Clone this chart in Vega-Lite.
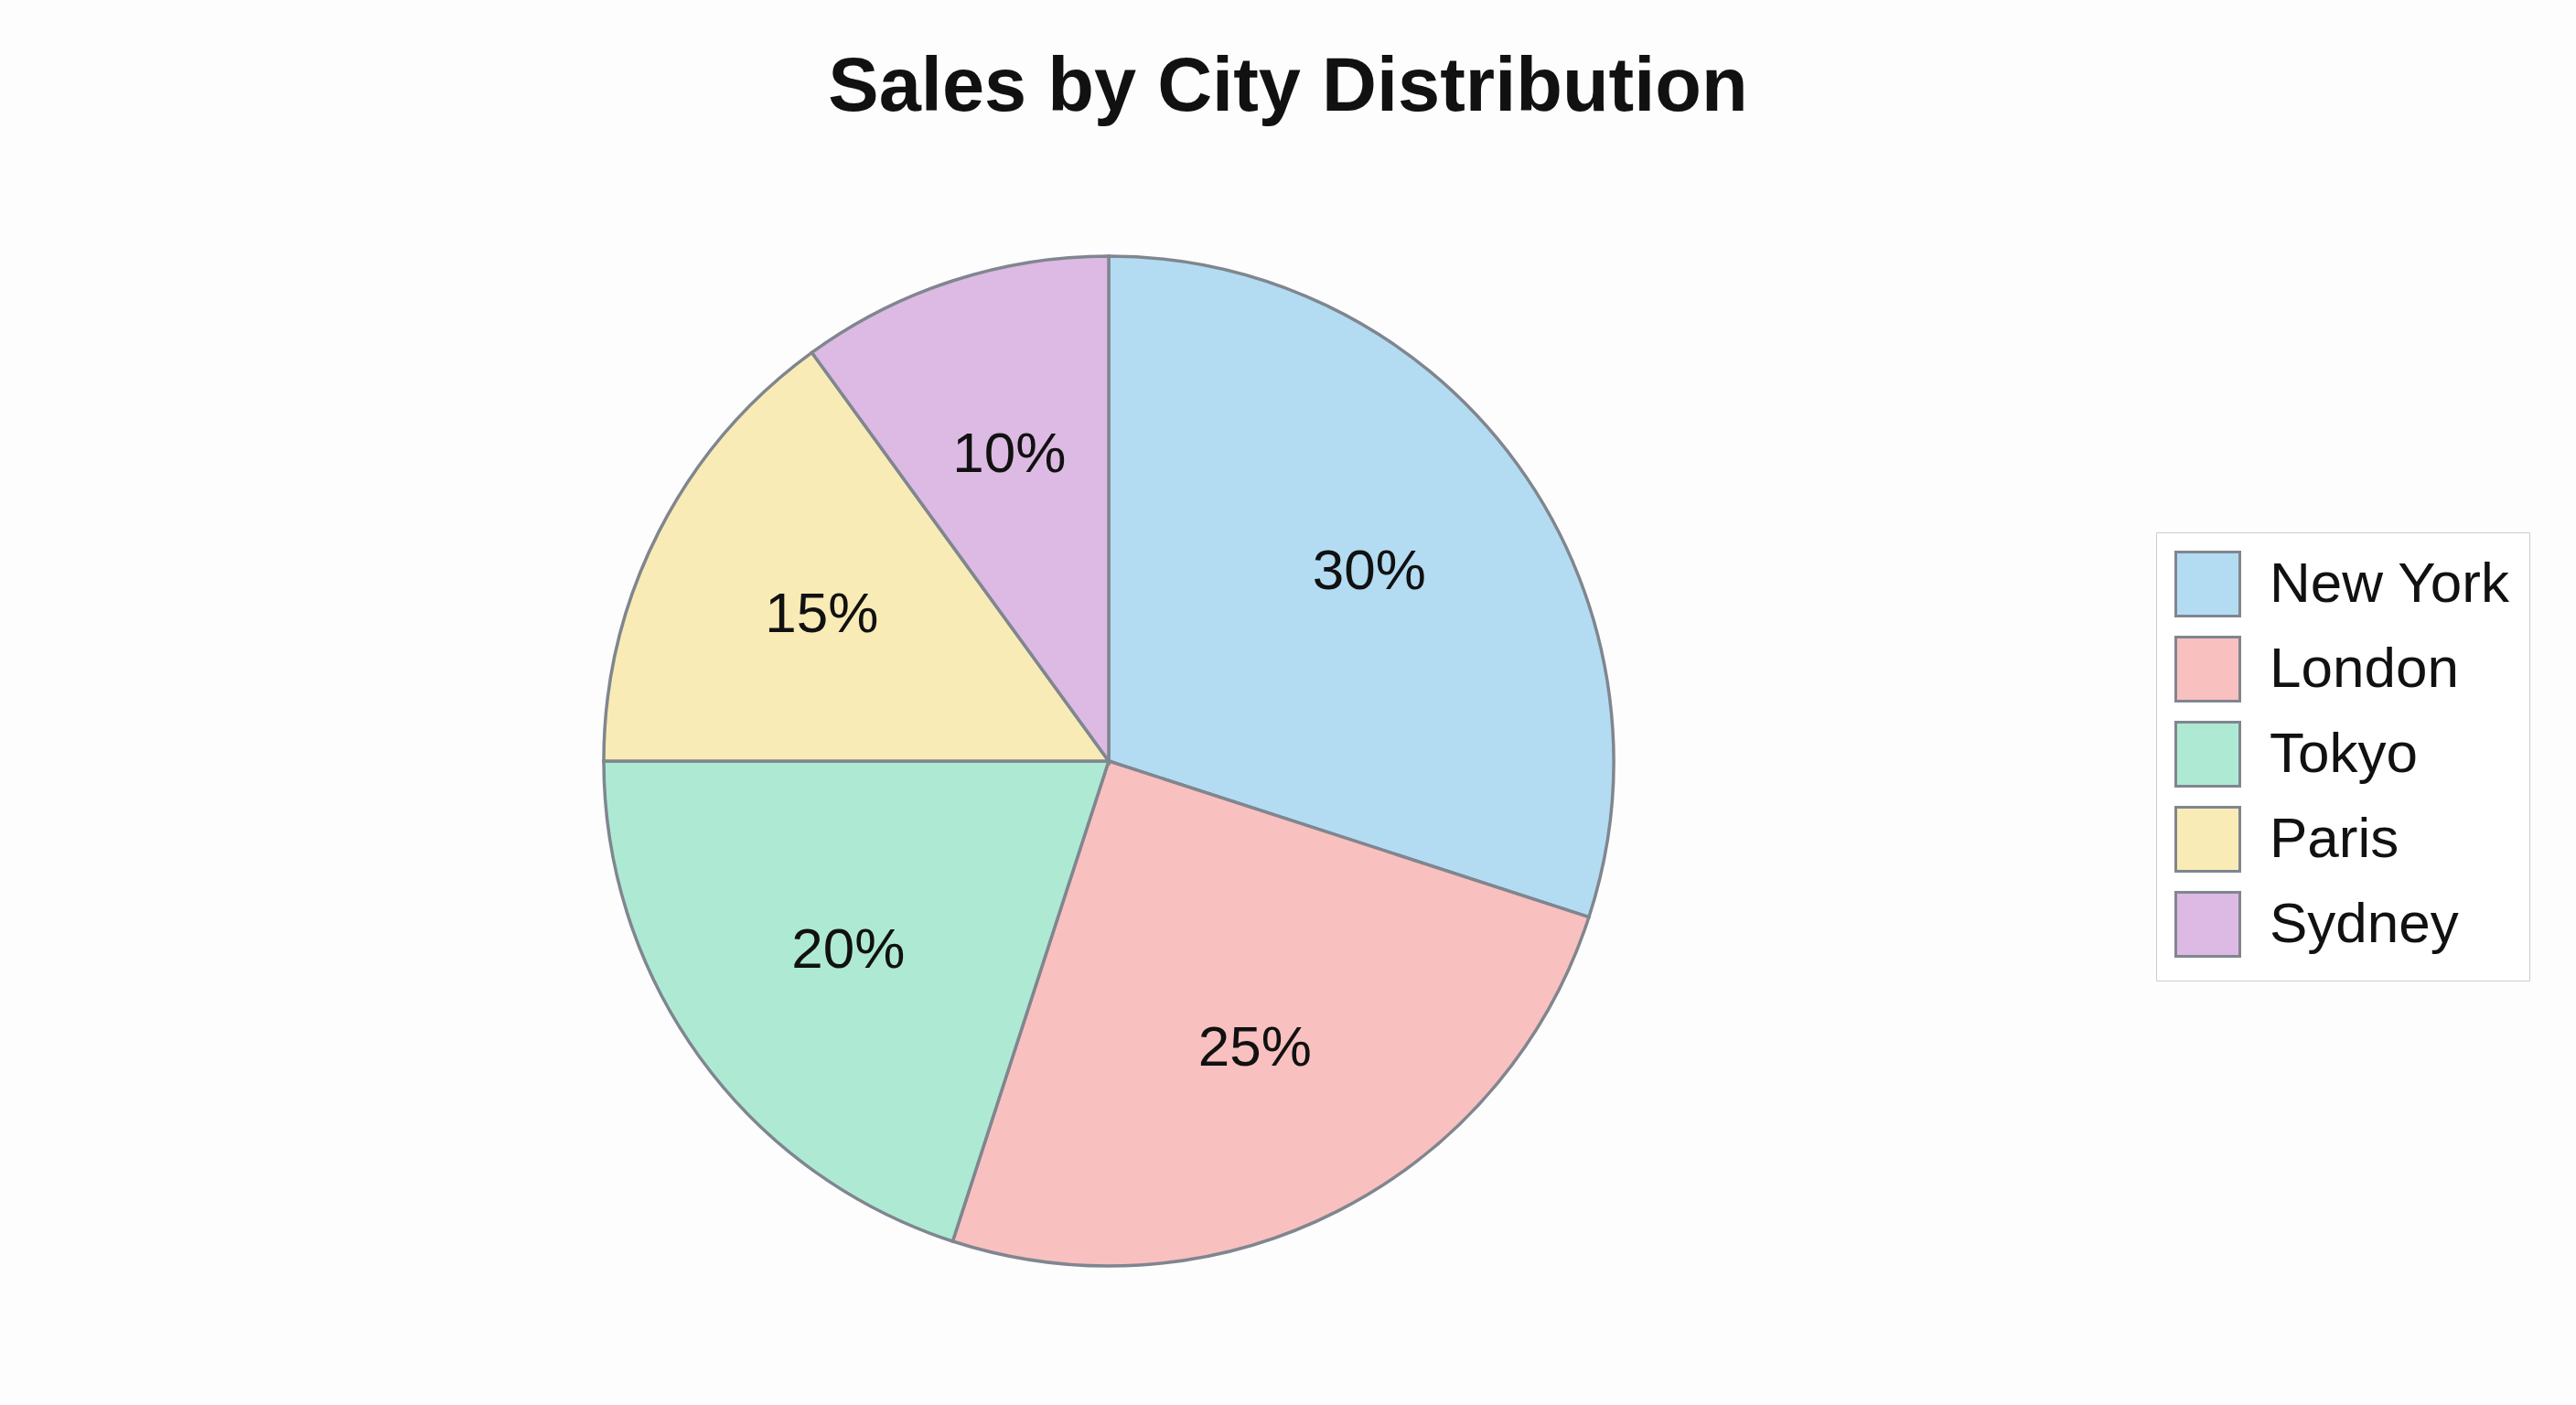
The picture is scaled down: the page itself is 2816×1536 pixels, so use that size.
{
  "$schema": "https://vega.github.io/schema/vega-lite/v6.json",
  "autosize": "none",
  "width": 2424,
  "height": 1120,
  "padding": {"left": 0, "top": 272, "right": 392, "bottom": 144},
  "background": "#fdfdfd",
  "title": {
    "text": "Sales by City Distribution",
    "anchor": "middle",
    "frame": "group",
    "dx": 196,
    "offset": 68,
    "baseline": "alphabetic",
    "font": "Liberation Sans",
    "fontSize": 83,
    "fontWeight": "bold",
    "color": "#111111"
  },
  "data": {
    "values": [
      {"city": "New York", "share": 30, "label": "30%", "rank": 1},
      {"city": "London", "share": 25, "label": "25%", "rank": 2},
      {"city": "Tokyo", "share": 20, "label": "20%", "rank": 3},
      {"city": "Paris", "share": 15, "label": "15%", "rank": 4},
      {"city": "Sydney", "share": 10, "label": "10%", "rank": 5}
    ]
  },
  "encoding": {
    "theta": {"field": "share", "type": "quantitative", "stack": true},
    "order": {"field": "rank", "type": "quantitative"},
    "color": {
      "field": "city",
      "type": "nominal",
      "sort": ["New York", "London", "Tokyo", "Paris", "Sydney"],
      "scale": {
        "domain": ["New York", "London", "Tokyo", "Paris", "Sydney"],
        "range": ["#b3dcf2", "#f9c0c0", "#aeead3", "#f8ebb5", "#dcbae3"]
      },
      "legend": {
        "title": null,
        "orient": "none",
        "legendX": 2357,
        "legendY": 310,
        "direction": "vertical",
        "symbolType": "square",
        "symbolSize": 4900,
        "symbolStrokeColor": "#80868f",
        "symbolStrokeWidth": 3,
        "symbolOpacity": 1,
        "labelFont": "Liberation Sans",
        "labelFontSize": 62,
        "labelColor": "#111111",
        "labelOffset": 31,
        "labelLimit": 500,
        "rowPadding": 10,
        "padding": 20,
        "fillColor": "#ffffff",
        "strokeColor": "#cccccc",
        "cornerRadius": 0
      }
    }
  },
  "layer": [
    {
      "mark": {"type": "arc", "outerRadius": 552, "stroke": "#80868f", "strokeWidth": 3.5}
    },
    {
      "mark": {"type": "text", "radius": 352, "font": "Liberation Sans", "fontSize": 62, "color": "#111111", "align": "center", "baseline": "middle"},
      "encoding": {
        "text": {"field": "label", "type": "nominal"},
        "color": {"value": "#111111"}
      }
    }
  ]
}
